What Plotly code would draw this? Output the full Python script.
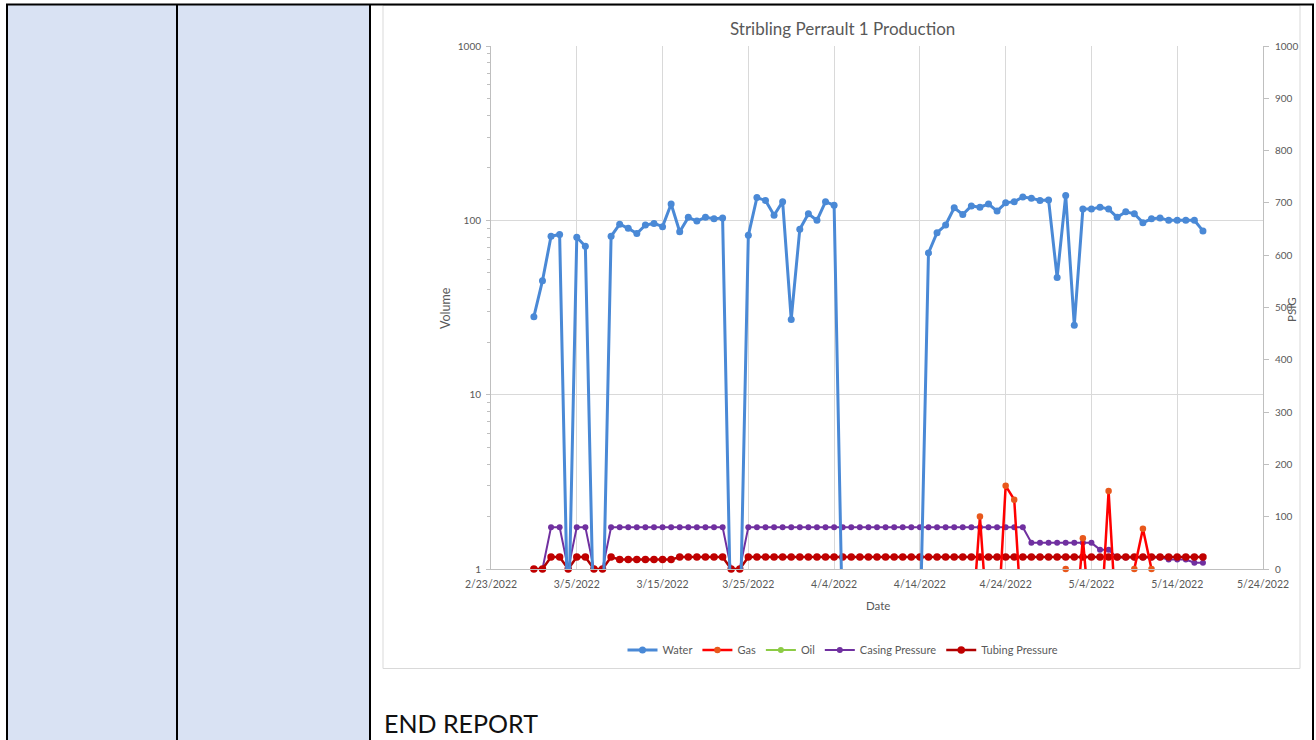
import plotly.graph_objects as go
import pandas as pd

# ---------------- data ----------------
dates = pd.date_range("2022-02-28", "2022-05-17", freq="D")

water = [
    28,                                                     # 2/28
    45, 81, 83, 0, 80, 71, 0, 0, 81, 95,                    # 3/1-3/10
    90, 84, 94, 96, 92, 124, 86, 104, 99, 104,              # 3/11-3/20
    102, 103, 0, 0, 82, 135, 130, 107, 128, 27, 89,         # 3/21-3/31
    109, 100, 128, 122, 0, 0, 0, 0, 0, 0,                   # 4/1-4/10
    0, 0, 0, 0, 65, 85, 94, 118, 108, 121,                  # 4/11-4/20
    119, 124, 113, 126, 128, 136, 134, 130, 131, 47,        # 4/21-4/30
    139, 25, 116, 116, 119, 116, 104, 112, 109, 97,         # 5/1-5/10
    102, 103, 100, 100, 100, 100, 87,                       # 5/11-5/17
]
gas = [
    0,
    0, 0, 0, 0, 0, 0, 0, 0, 0, 0,
    0, 0, 0, 0, 0, 0, 0, 0, 0, 0,
    0, 0, 0, 0, 0, 0, 0, 0, 0, 0, 0,
    0, 0, 0, 0, 0, 0, 0, 0, 0, 0,
    0, 0, 0, 0, 0, 0, 0, 0, 0, 0,
    2.0, 0, 0, 3.0, 2.5, 0, 0, 0, 0, 0,
    1.0, 0, 1.5, 0, 0, 2.8, 0, 0, 1.0, 1.7,
    1.0, 0, 0, 0, 0, 0, 0,
]
oil = [
    0,
    0, 0, 0, 0, 0, 0, 0, 0, 0, 0,
    0, 0, 0, 0, 0, 0, 0, 0, 0, 0,
    0, 0, 0, 0, 0, 0, 0, 0, 0, 0, 0,
    0, 0, 0, 0, 0, 0, 0, 0, 0, 0,
    0, 0, 0, 0, 0, 0, 0, 0, 0, 0,
    0, 0, 0, 0, 0, 0, 0, 0, 0, 0,
    0, 0, 0, 0, 0, 0, 0, 0, 0, 0,
    0, 0, 0, 0, 0, 0, 0,
]
casing = [
    0,
    0, 80, 80, 0, 80, 80, 0, 0, 80, 80,
    80, 80, 80, 80, 80, 80, 80, 80, 80, 80,
    80, 80, 0, 0, 80, 80, 80, 80, 80, 80, 80,
    80, 80, 80, 80, 80, 80, 80, 80, 80, 80,
    80, 80, 80, 80, 80, 80, 80, 80, 80, 80,
    80, 80, 80, 80, 80, 80, 50, 50, 50, 50,
    50, 50, 50, 50, 37, 37, 22, 22, 22, 22,
    22, 22, 18, 18, 18, 12, 12,
]
tubing = [
    0,
    0, 23, 23, 0, 23, 23, 0, 0, 23, 18,
    18, 18, 18, 18, 18, 18, 23, 23, 23, 23,
    23, 23, 0, 0, 23, 23, 23, 23, 23, 23, 23,
    23, 23, 23, 23, 23, 23, 23, 23, 23, 23,
    23, 23, 23, 23, 23, 23, 23, 23, 23, 23,
    23, 23, 23, 23, 23, 23, 23, 23, 23, 23,
    23, 23, 23, 23, 23, 23, 23, 23, 23, 23,
    23, 23, 23, 23, 23, 23, 23,
]

x_tick_dates = ["2022-02-23", "2022-03-05", "2022-03-15", "2022-03-25", "2022-04-04",
                "2022-04-14", "2022-04-24", "2022-05-04", "2022-05-14", "2022-05-24"]
x_tick_text = ["2/23/2022", "3/5/2022", "3/15/2022", "3/25/2022", "4/4/2022",
               "4/14/2022", "4/24/2022", "5/4/2022", "5/14/2022", "5/24/2022"]
psig_ticks = [0, 100, 200, 300, 400, 500, 600, 700, 800, 900, 1000]

# zero volumes cannot sit on a log axis: draw them just below the axis floor
ZERO_ON_LOG = 0.4
def on_log(vals):
    return [v if v > 0 else ZERO_ON_LOG for v in vals]

# ---------------- geometry ----------------
W, H = 1316, 740
L, R, T, B = 491, 1263, 46, 569  # plot area in pixels

def px(x):
    return (x - L) / (R - L)

def py(y):
    return (B - y) / (B - T)

FONT = "Lato, 'Open Sans', sans-serif"
GREY_TXT = "#595959"
AXIS = "#BFBFBF"
GRID = "#D9D9D9"

fig = go.Figure()

# pressures on the base (right, linear) axis -> drawn underneath
fig.add_trace(go.Scatter(
    x=dates, y=casing, name="Casing Pressure", mode="lines+markers", yaxis="y",
    line=dict(color="#7030A0", width=2), marker=dict(color="#7030A0", size=6),
    cliponaxis=False, legendrank=4))
fig.add_trace(go.Scatter(
    x=dates, y=tubing, name="Tubing Pressure", mode="lines+markers", yaxis="y",
    line=dict(color="#B00000", width=2.5), marker=dict(color="#C00000", size=7.5),
    cliponaxis=False, legendrank=5))

# volumes on the overlaid (left, log) axis -> drawn on top
fig.add_trace(go.Scatter(
    x=dates, y=on_log(water), name="Water", mode="lines+markers", yaxis="y2",
    line=dict(color="#4A89D6", width=3), marker=dict(color="#4A89D6", size=7),
    cliponaxis=False, legendrank=1))
fig.add_trace(go.Scatter(
    x=dates, y=on_log(gas), name="Gas", mode="lines+markers", yaxis="y2",
    line=dict(color="#FF0000", width=2.5), marker=dict(color="#E8581C", size=6.5),
    cliponaxis=False, legendrank=2))
fig.add_trace(go.Scatter(
    x=dates, y=on_log(oil), name="Oil", mode="lines+markers", yaxis="y2",
    line=dict(color="#8CCB45", width=2), marker=dict(color="#8CCB45", size=6),
    cliponaxis=False, legendrank=3))

shapes = [
    # table cells
    dict(type="rect", xref="paper", yref="paper", x0=px(8), x1=px(176), y0=py(5), y1=py(745),
         fillcolor="#D9E2F3", line=dict(width=0), layer="below"),
    dict(type="rect", xref="paper", yref="paper", x0=px(178), x1=px(369), y0=py(5), y1=py(745),
         fillcolor="#D9E2F3", line=dict(width=0), layer="below"),
    # chart frame
    dict(type="rect", xref="paper", yref="paper", x0=px(383), x1=px(1300), y0=py(5.5), y1=py(668.5),
         fillcolor="white", line=dict(color="#D9D9D9", width=1), layer="below"),
    # table borders
    dict(type="line", xref="paper", yref="paper", x0=px(6), x1=px(1314), y0=py(4.5), y1=py(4.5),
         line=dict(color="black", width=2)),
    dict(type="line", xref="paper", yref="paper", x0=px(7), x1=px(7), y0=py(4), y1=py(745),
         line=dict(color="black", width=2)),
    dict(type="line", xref="paper", yref="paper", x0=px(177), x1=px(177), y0=py(4), y1=py(745),
         line=dict(color="black", width=2)),
    dict(type="line", xref="paper", yref="paper", x0=px(370), x1=px(370), y0=py(4), y1=py(745),
         line=dict(color="black", width=2)),
    dict(type="line", xref="paper", yref="paper", x0=px(1313), x1=px(1313), y0=py(4), y1=py(745),
         line=dict(color="black", width=2)),
]

annotations = [
    dict(text="Stribling Perrault 1 Production", x=px(842), y=py(28), xref="paper", yref="paper",
         showarrow=False, xanchor="center", yanchor="middle",
         font=dict(family=FONT, size=17, color=GREY_TXT)),
    dict(text="Volume", x=px(445), y=py(308), xref="paper", yref="paper", textangle=-90,
         showarrow=False, xanchor="center", yanchor="middle",
         font=dict(family=FONT, size=12.5, color=GREY_TXT)),
    dict(text="PSIG", x=px(1291), y=py(310), xref="paper", yref="paper", textangle=-90,
         showarrow=False, xanchor="center", yanchor="middle",
         font=dict(family=FONT, size=11.5, color=GREY_TXT)),
    dict(text="Date", x=px(878), y=py(605), xref="paper", yref="paper",
         showarrow=False, xanchor="center", yanchor="middle",
         font=dict(family=FONT, size=11.5, color=GREY_TXT)),
    dict(text="END REPORT", x=px(382), y=py(723), xref="paper", yref="paper",
         showarrow=False, xanchor="left", yanchor="middle",
         font=dict(family=FONT, size=25, color="#111111")),
]

fig.update_layout(
    width=W, height=H,
    margin=dict(l=L, r=W - R, t=T, b=H - B, pad=0),
    paper_bgcolor="white", plot_bgcolor="rgba(0,0,0,0)",
    font=dict(family=FONT, color=GREY_TXT),
    showlegend=True,
    legend=dict(orientation="h", x=px(843), y=py(650), xanchor="center", yanchor="middle",
                font=dict(family=FONT, size=11, color=GREY_TXT), traceorder="normal",
                bgcolor="rgba(0,0,0,0)", itemwidth=30),
    xaxis=dict(type="date", range=["2022-02-23", "2022-05-24"],
               tickmode="array", tickvals=x_tick_dates, ticktext=x_tick_text,
               showgrid=True, gridcolor=GRID, gridwidth=1,
               showline=True, linecolor=AXIS, linewidth=1, ticks="",
               ticklabelstandoff=5,
               tickfont=dict(family=FONT, size=10.5, color=GREY_TXT), zeroline=False),
    yaxis=dict(side="right", range=[0, 1000], tickmode="array", tickvals=psig_ticks,
               showgrid=False, showline=True, linecolor=AXIS, linewidth=1,
               ticks="outside", ticklen=5, tickcolor=AXIS, zeroline=False,
               ticklabelstandoff=4,
               tickfont=dict(family=FONT, size=10, color=GREY_TXT)),
    yaxis2=dict(type="log", overlaying="y", side="left", range=[0, 3],
                tickmode="linear", tick0=0, dtick=1, exponentformat="none",
                showgrid=True, gridcolor=GRID, gridwidth=1,
                showline=True, linecolor=AXIS, linewidth=1,
                ticks="outside", ticklen=4, tickcolor=AXIS, zeroline=False,
                ticklabelstandoff=3,
                minor=dict(ticks="outside", ticklen=3, tickcolor=AXIS, showgrid=False),
                tickfont=dict(family=FONT, size=10, color=GREY_TXT)),
    shapes=shapes, annotations=annotations,
)

fig.write_html(
    "out.html",
    config={"displayModeBar": False},
    post_script="document.body.style.margin='0';document.body.style.overflow='hidden';",
)
